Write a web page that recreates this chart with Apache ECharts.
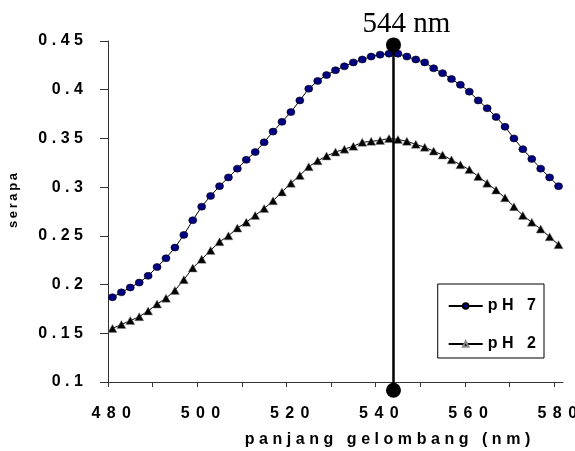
<!DOCTYPE html>
<html>
<head>
<meta charset="utf-8">
<script src="https://cdn.jsdelivr.net/npm/echarts@6/dist/echarts.min.js"></script>
<style>
html, body { margin: 0; padding: 0; background: #fff; }
#chart { width: 575px; height: 451px; }
</style>
</head>
<body>
<div id="chart"></div>
<script>
// panjang gelombang (nm)
var wavelengths = [481, 483, 485, 487, 489, 491, 493, 495, 497, 499,
  501, 503, 505, 507, 509, 511, 513, 515, 517, 519,
  521, 523, 525, 527, 529, 531, 533, 535, 537, 539,
  541, 543, 545, 547, 549, 551, 553, 555, 557, 559,
  561, 563, 565, 567, 569, 571, 573, 575, 577, 579, 581]
// serapa pH 7
var ph7 = [0.187, 0.192, 0.197, 0.202, 0.209, 0.218, 0.227, 0.238, 0.251, 0.266,
  0.280, 0.291, 0.301, 0.310, 0.319, 0.328, 0.336, 0.346, 0.357, 0.367,
  0.377, 0.389, 0.401, 0.409, 0.415, 0.420, 0.424, 0.428, 0.431, 0.434,
  0.436, 0.437, 0.437, 0.434, 0.431, 0.428, 0.422, 0.417, 0.411, 0.405,
  0.398, 0.389, 0.381, 0.372, 0.362, 0.350, 0.339, 0.329, 0.319, 0.310, 0.301]
// serapa pH 2
var ph2 = [0.155, 0.159, 0.163, 0.167, 0.173, 0.180, 0.186, 0.194, 0.205, 0.217,
  0.226, 0.235, 0.244, 0.250, 0.258, 0.264, 0.271, 0.278, 0.286, 0.295,
  0.304, 0.312, 0.321, 0.327, 0.332, 0.336, 0.339, 0.342, 0.346, 0.347,
  0.348, 0.350, 0.349, 0.347, 0.344, 0.341, 0.337, 0.333, 0.328, 0.323,
  0.318, 0.311, 0.304, 0.297, 0.289, 0.280, 0.271, 0.264, 0.257, 0.249, 0.241]
var seriesNames = ['pH 7', 'pH 2']
// garis puncak
var peakX = 544
var peakYs = [0.0915, 0.446]
var peakLabel = '544 nm'
// label sumbu
var xTickValues = [480, 490, 500, 510, 520, 530, 540, 550, 560, 570, 580]
var xLabelValues = [480, 500, 520, 540, 560, 580]

// huruf direnggangkan seperti aslinya
var THIN = '\u2009'
var WIDE = '\u2009\u200A'
function spaced (s, sep) {
  return s.split('').join(sep)
}

function pairs (ys) {
  var out = []
  for (var i = 0; i < wavelengths.length; i++) out.push([wavelengths[i], ys[i]])
  return out
}

var font = "'Liberation Sans', Arial, sans-serif"
var chart = echarts.init(document.getElementById('chart'))
chart.setOption({
  animation: false,
  textStyle: { fontFamily: font },
  grid: { left: 108, top: 41, right: 12, bottom: 69, containLabel: false, outerBoundsMode: 'none' },
  legend: {
    data: seriesNames,
    orient: 'vertical',
    right: 31,
    top: 284,
    itemWidth: 34,
    itemHeight: 7,
    itemGap: 22,
    padding: [14, 8, 6, 10],
    borderColor: '#000',
    borderWidth: 1,
    selectedMode: false,
    formatter: function (n) { return spaced(n, WIDE) },
    textStyle: { fontFamily: font, fontWeight: 'bold', fontSize: 16, color: '#000' }
  },
  xAxis: {
    type: 'value',
    min: 480,
    max: 582,
    name: spaced('panjang gelombang (nm)', WIDE),
    nameLocation: 'middle',
    nameGap: 50,
    nameTextStyle: { fontFamily: font, fontWeight: 'bold', fontSize: 16, color: '#000', padding: [0, 0, 0, 104] },
    splitLine: { show: false },
    axisLine: { lineStyle: { color: '#333', width: 1 } },
    axisTick: { length: 5, lineStyle: { color: '#333' }, customValues: xTickValues },
    axisLabel: {
      customValues: xLabelValues,
      margin: 24,
      fontFamily: font,
      fontWeight: 'bold',
      fontSize: 16,
      color: '#000',
      formatter: function (v) { return THIN + THIN + spaced(String(v), THIN + THIN) }
    }
  },
  yAxis: {
    type: 'value',
    min: 0.1,
    max: 0.45,
    interval: 0.05,
    name: spaced('serapa', THIN),
    nameLocation: 'middle',
    nameGap: 88,
    nameRotate: 90,
    nameTextStyle: { fontFamily: font, fontWeight: 'bold', fontSize: 13, color: '#000', padding: [0, 0, 0, 22] },
    splitLine: { show: false },
    axisLine: { show: true, lineStyle: { color: '#333', width: 1 } },
    axisTick: { show: true, length: 8, lineStyle: { color: '#333' } },
    axisLabel: {
      margin: 25,
      fontFamily: font,
      fontWeight: 'bold',
      fontSize: 16,
      color: '#000',
      formatter: function (v) { return spaced(String(Math.round(v * 100) / 100), WIDE) }
    }
  },
  series: [
    {
      name: seriesNames[0],
      type: 'line',
      data: pairs(ph7),
      symbol: 'circle',
      symbolSize: [8, 7],
      showAllSymbol: true,
      lineStyle: { color: '#000', width: 1 },
      itemStyle: { color: '#000080', borderColor: '#000', borderWidth: 0.6 },
      z: 3
    },
    {
      name: seriesNames[1],
      type: 'line',
      data: pairs(ph2),
      symbol: 'triangle',
      symbolSize: [9, 8],
      showAllSymbol: true,
      lineStyle: { color: '#000', width: 1 },
      itemStyle: { color: '#000', borderColor: '#888', borderWidth: 0.5 },
      z: 3
    },
    {
      name: 'puncak',
      type: 'line',
      data: [[peakX, peakYs[0]], [peakX, peakYs[1]]],
      clip: false,
      symbol: 'circle',
      symbolSize: 15,
      lineStyle: { color: '#000', width: 2.5 },
      itemStyle: { color: '#000' },
      label: {
        show: true,
        position: 'top',
        distance: 4,
        offset: [13, 5],
        fontFamily: "'Liberation Serif', 'Times New Roman', serif",
        fontSize: 29,
        color: '#000',
        formatter: function (p) { return p.dataIndex === 1 ? peakLabel : '' }
      },
      z: 5
    }
  ]
})
</script>
</body>
</html>
